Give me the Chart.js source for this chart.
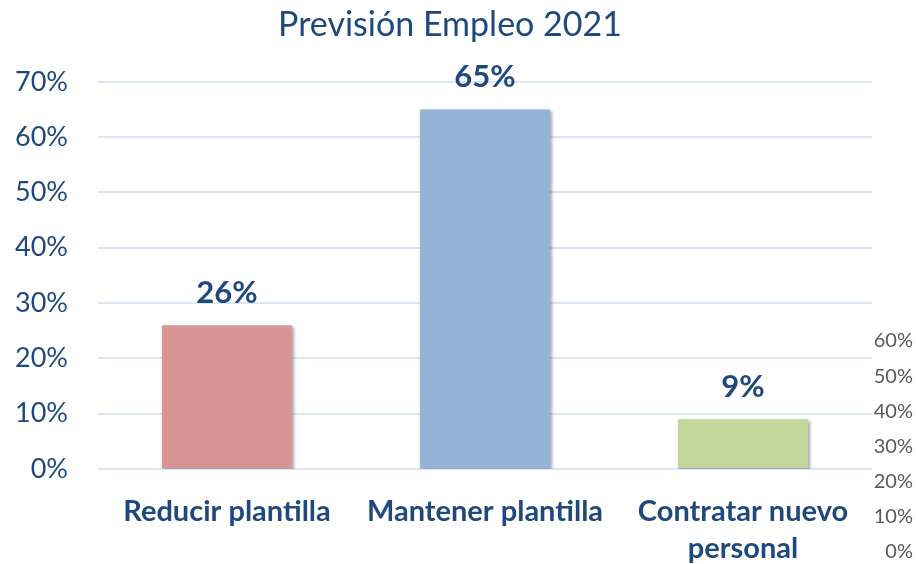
<!DOCTYPE html>
<html>
<head>
<meta charset="utf-8">
<script src="https://cdn.jsdelivr.net/npm/chart.js@4.4.0/dist/chart.umd.min.js"></script>
<style>
  html, body { margin: 0; padding: 0; background: #fff; }
  #wrap { position: relative; width: 916px; height: 564px; overflow: hidden; }
  #main { position: absolute; left: 0; top: 0; }
  #side { position: absolute; left: 845px; top: 320px; }
</style>
</head>
<body>
<div id="wrap">
  <canvas id="main" width="916" height="564"></canvas>
  <canvas id="side" width="80" height="244"></canvas>
</div>
<script>
// values
const categories = ["Reducir plantilla", "Mantener plantilla", ["Contratar nuevo", "personal"]];
const shares = [0.26, 0.65, 0.09];
const barColors = ["#D99594", "#95B3D7", "#C3D69B"];
const leftTicks = [0, 0.1, 0.2, 0.3, 0.4, 0.5, 0.6, 0.7];
const rightTicks = [0, 0.1, 0.2, 0.3, 0.4, 0.5, 0.6];

const navy = "#1F497D";
const pct = (v) => Math.round(v * 100) + "%";

// soft shadow under the bars, like the office export
const barShadow = {
  id: "barShadow",
  beforeDatasetDraw(chart) {
    const ctx = chart.ctx;
    ctx.save();
    ctx.shadowColor = "rgba(0,0,0,0.35)";
    ctx.shadowBlur = 3;
    ctx.shadowOffsetX = 1.5;
    ctx.shadowOffsetY = 2;
  },
  afterDatasetDraw(chart) {
    chart.ctx.restore();
  },
};

// value labels above each bar
const valueLabels = {
  id: "valueLabels",
  afterDatasetsDraw(chart) {
    const ctx = chart.ctx;
    const meta = chart.getDatasetMeta(0);
    ctx.save();
    ctx.font = "bold 31px Lato";
    ctx.fillStyle = navy;
    ctx.textAlign = "center";
    ctx.textBaseline = "middle";
    meta.data.forEach((bar, i) => {
      ctx.fillText(pct(shares[i]), bar.x, bar.y - 32);
    });
    ctx.restore();
  },
};

new Chart(document.getElementById("main"), {
  type: "bar",
  data: {
    labels: categories,
    datasets: [
      {
        data: shares,
        backgroundColor: barColors,
        borderWidth: 0,
        barPercentage: 1,
        categoryPercentage: 0.504,
      },
    ],
  },
  plugins: [barShadow, valueLabels],
  options: {
    responsive: false,
    animation: false,
    layout: { padding: { left: 0, right: 16, top: 0, bottom: 0 } },
    plugins: {
      legend: { display: false },
      tooltip: { enabled: false },
      title: {
        display: true,
        text: "Previsión Empleo 2021",
        color: navy,
        font: { family: "Lato", size: 34, weight: "normal" },
        padding: { top: 5, bottom: 36 },
      },
    },
    scales: {
      x: {
        grid: { display: false },
        border: { display: false },
        ticks: {
          color: navy,
          font: { family: "Lato", size: 29, weight: "bold", lineHeight: 1.25 },
          padding: 17,
          maxRotation: 0,
          autoSkip: false,
        },
        afterFit: (scale) => {
          scale.height = 95;
        },
      },
      y: {
        min: 0,
        max: 0.7,
        afterBuildTicks: (scale) => {
          scale.ticks = leftTicks.map((v) => ({ value: v }));
        },
        grid: { color: "#DCE6F3", lineWidth: 2, drawTicks: false },
        border: { display: false },
        ticks: {
          color: navy,
          font: { family: "Lato", size: 27 },
          padding: 30,
          callback: (v) => pct(v),
        },
        afterFit: (scale) => {
          scale.width = 98;
        },
      },
      // empty spacer on the right so the title sits where it does in the original
      yR: {
        position: "right",
        grid: { display: false },
        border: { display: false },
        ticks: { display: false },
        afterFit: (scale) => {
          scale.width = 28;
        },
      },
    },
  },
});

// the stray grey axis in the lower right corner
new Chart(document.getElementById("side"), {
  type: "bar",
  data: { labels: [""], datasets: [{ data: [] }] },
  options: {
    responsive: false,
    animation: false,
    layout: { padding: { top: 21, bottom: 12, left: 0, right: 0 } },
    plugins: { legend: { display: false }, tooltip: { enabled: false } },
    scales: {
      x: { display: false },
      y: {
        min: 0,
        max: 0.6,
        afterBuildTicks: (scale) => {
          scale.ticks = rightTicks.map((v) => ({ value: v }));
        },
        grid: { display: false },
        border: { display: false },
        ticks: {
          color: "#595959",
          font: { family: "Lato", size: 20 },
          padding: 0,
          callback: (v) => pct(v),
        },
        afterFit: (scale) => {
          scale.width = 76;
        },
      },
    },
  },
});
</script>
</body>
</html>
